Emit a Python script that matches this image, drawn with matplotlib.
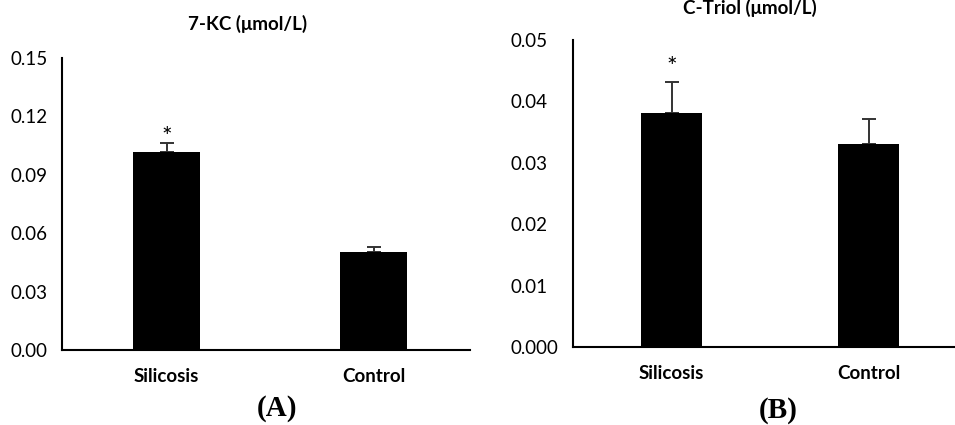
import numpy as np
import matplotlib.pyplot as plt

groups = ['Silicosis', 'Control']
kc_mean = [0.1017, 0.0503]
kc_err = [0.0046, 0.0026]
triol_mean = [0.0381, 0.0331]
triol_err = [0.0051, 0.0040]
kc_ticks = [0.00, 0.03, 0.06, 0.09, 0.12, 0.15]
kc_ticklabels = ['0.00', '0.03', '0.06', '0.09', '0.12', '0.15']
triol_ticks = [0.0, 0.01, 0.02, 0.03, 0.04, 0.05]
triol_ticklabels = ['0.000', '0.01', '0.02', '0.03', '0.04', '0.05']

plt.rcParams['font.family'] = ['Lato', 'DejaVu Sans']

W, H = 955, 425
fig = plt.figure(figsize=(W / 100, H / 100), dpi=100)


def px_axes(left, right, top, bottom):
    return fig.add_axes([left / W, (H - bottom) / H, (right - left) / W, (bottom - top) / H])


def draw(ax, means, errs, ticks, ticklabels, width, xlim, ypad, star_gap):
    x = np.arange(len(groups))
    ax.bar(x, means, width=width, color='black', zorder=2)
    ax.errorbar(x, means, yerr=[np.zeros(len(errs)), errs], fmt='none',
                ecolor='#333333', elinewidth=1.4, capsize=5, capthick=1.4, zorder=1)
    ax.text(x[0], means[0] + errs[0] + star_gap, '*', ha='center', va='center', fontsize=18)
    ax.set_xlim(*xlim)
    ax.set_ylim(ticks[0], ticks[-1])
    ax.set_yticks(ticks)
    ax.set_yticklabels(ticklabels, fontsize=13.5)
    for lab in ax.get_yticklabels():
        lab.set_horizontalalignment('left')
    ax.set_xticks(x)
    ax.set_xticklabels(groups, fontsize=13.5, fontweight='bold')
    ax.tick_params(axis='both', length=0)
    ax.tick_params(axis='y', pad=ypad)
    ax.tick_params(axis='x', pad=13)
    for s in ['top', 'right']:
        ax.spines[s].set_visible(False)
    for s in ['left', 'bottom']:
        ax.spines[s].set_linewidth(1.5)
        ax.spines[s].set_color('black')
    ax.set_facecolor('none')


axA = px_axes(62, 470, 58, 350)
draw(axA, kc_mean, kc_err, kc_ticks, kc_ticklabels, 0.324, (-0.505, 1.466), 37, 0.003)

axB = px_axes(573, 955, 40, 347)
draw(axB, triol_mean, triol_err, triol_ticks, triol_ticklabels, 0.31, (-0.5, 1.439), 45, 0.0024)

fig.text(248 / W, 1 - 24 / H, '7-KC (\u03bcmol/L)', ha='center', va='center',
         fontsize=13.5, fontweight='bold')
fig.text(750 / W, 1 - 8 / H, 'C-Triol (\u03bcmol/L)', ha='center', va='center',
         fontsize=13.5, fontweight='bold')
fig.text(277 / W, 1 - 408 / H, '(A)', ha='center', va='center', fontsize=21,
         fontweight='bold', family='Liberation Serif')
fig.text(778 / W, 1 - 411 / H, '(B)', ha='center', va='center', fontsize=21,
         fontweight='bold', family='Liberation Serif')

fig.savefig('out.png', dpi=100)
